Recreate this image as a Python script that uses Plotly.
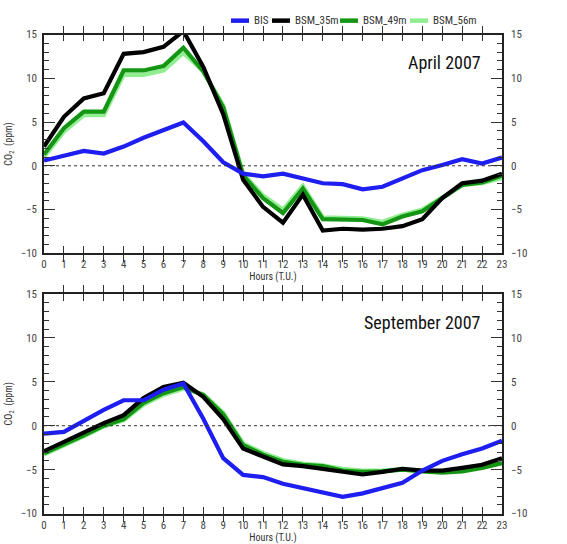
import plotly.graph_objects as go

# Hourly CO2 anomalies (ppm) by station, hours in universal time
hours = list(range(24))

apr_bis = [0.6, 1.2, 1.7, 1.4, 2.2, 3.2, 4.1, 4.95, 2.8, 0.4, -0.9, -1.2,
           -0.9, -1.5, -2.0, -2.1, -2.7, -2.4, -1.5, -0.5, 0.1, 0.75, 0.25, 0.95]
apr_35 = [2.2, 5.6, 7.7, 8.3, 12.8, 13.0, 13.6, 15.4, 11.3, 5.9, -1.6, -4.7,
          -6.5, -3.3, -7.4, -7.2, -7.3, -7.2, -6.9, -6.1, -3.7, -2.0, -1.7, -0.9]
apr_49 = [1.3, 4.3, 6.2, 6.2, 10.9, 10.9, 11.4, 13.5, 10.8, 6.7, -1.1, -3.7,
          -5.4, -2.6, -6.1, -6.1, -6.2, -6.7, -5.8, -5.2, -3.7, -2.2, -1.9, -1.1]
apr_56 = [1.0, 3.9, 5.8, 5.8, 10.4, 10.4, 10.9, 12.9, 10.8, 6.9, -0.9, -3.4,
          -5.0, -2.3, -5.9, -5.9, -6.0, -6.4, -5.6, -5.0, -3.6, -2.2, -2.0, -1.4]

sep_bis = [-0.9, -0.7, 0.55, 1.8, 2.9, 2.9, 4.1, 4.8, 0.8, -3.7, -5.6, -5.85,
           -6.6, -7.1, -7.7, -8.1, -7.7, -7.1, -6.5, -5.1, -4.0, -3.25, -2.6, -1.7]
sep_35 = [-2.9, -1.85, -0.75, 0.3, 1.2, 3.15, 4.4, 4.9, 3.3, 0.75, -2.6, -3.5,
          -4.4, -4.6, -4.9, -5.25, -5.55, -5.25, -4.9, -5.1, -5.1, -4.8, -4.45, -3.7]
sep_49 = [-3.15, -2.15, -1.1, 0.0, 0.75, 2.6, 3.7, 4.4, 3.5, 1.3, -2.2, -3.3,
          -4.1, -4.45, -4.6, -5.1, -5.25, -5.2, -5.0, -5.2, -5.35, -5.2, -4.8, -4.25]
sep_56 = [-3.3, -2.3, -1.2, -0.1, 0.6, 2.4, 3.5, 4.2, 3.6, 1.5, -2.0, -3.1,
          -3.9, -4.3, -4.5, -4.9, -5.1, -5.1, -4.9, -5.1, -5.2, -5.0, -4.7, -4.3]

series_names = ["BIS", "BSM_35m", "BSM_49m", "BSM_56m"]
series_colors = ["#1e1ef0", "#000000", "#149614", "#90ee90"]
panel_titles = ["April 2007", "September 2007"]
y_ticks = [-10, -5, 0, 5, 10, 15]

FONT = "Liberation Sans Narrow, Arial Narrow, Roboto Condensed, sans-serif"

fig = go.Figure()

panels = [
    ([apr_bis, apr_35, apr_49, apr_56], "x", "y", "y3"),
    ([sep_bis, sep_35, sep_49, sep_56], "x2", "y2", "y4"),
]

for data, xa, ya, ya_right in panels:
    # dotted zero reference, drawn on the right-hand axis
    fig.add_trace(go.Scatter(x=[hours[0], hours[-1]], y=[0, 0], mode="lines",
                             line=dict(color="#333333", width=1, dash="dot"),
                             xaxis=xa, yaxis=ya_right, showlegend=False,
                             hoverinfo="skip"))
    # lightest series first so the reference station sits on top
    for i in [3, 2, 1, 0]:
        fig.add_trace(go.Scatter(x=hours, y=data[i], mode="lines",
                                 name=series_names[i],
                                 line=dict(color=series_colors[i], width=4.2),
                                 xaxis=xa, yaxis=ya, showlegend=False))

W, H = 567, 544
L, R = 44, 65
top_dom = [1 - 253.3 / H, 1 - 29.3 / H]
bot_dom = [1 - 520 / H, 1 - 295 / H]

tickfont = dict(family=FONT, size=11, color="#444444")


def xaxis_style(anchor):
    return dict(range=[0, 23], tickmode="array", tickvals=hours,
                ticks="inside", ticklen=7, tickwidth=1.3, tickcolor="#333",
                showline=True, linecolor="#222", linewidth=1.5,
                mirror="allticks", showgrid=False, zeroline=False,
                tickfont=tickfont, anchor=anchor,
                title=dict(text="Hours (T.U.)", standoff=2,
                           font=dict(family=FONT, size=10, color="#333")))


def yaxis_style(domain, anchor):
    return dict(domain=domain, range=[-10, 15], tickmode="array",
                tickvals=y_ticks, ticks="inside", ticklen=11, tickwidth=1.3,
                tickcolor="#333", showline=True, linecolor="#222",
                linewidth=1.5, mirror="allticks", showgrid=False,
                zeroline=False, tickfont=tickfont, anchor=anchor,
                ticklabelstandoff=3,
                minor=dict(dtick=1, tick0=0, ticks="inside", ticklen=5,
                           tickwidth=1.1, tickcolor="#333", showgrid=False),
                title=dict(text="CO<sub>2</sub>  (ppm)", standoff=6,
                           font=dict(family=FONT, size=10, color="#333")))


def right_axis(over):
    return dict(overlaying=over, side="right", range=[-10, 15],
                tickmode="array", tickvals=y_ticks, ticks="",
                ticklabelstandoff=8,
                showline=False, showgrid=False, zeroline=False,
                tickfont=tickfont, anchor="x" if over == "y" else "x2")


fig.update_layout(
    width=W, height=H,
    margin=dict(l=L, r=R, t=0, b=0),
    paper_bgcolor="white", plot_bgcolor="white",
    xaxis=xaxis_style("y"),
    yaxis=yaxis_style(top_dom, "x"),
    xaxis2=xaxis_style("y2"),
    yaxis2=yaxis_style(bot_dom, "x2"),
    yaxis3=right_axis("y"),
    yaxis4=right_axis("y2"),
    showlegend=False,
)

# panel labels
for title, xr, yr in [(panel_titles[0], "x", "y"), (panel_titles[1], "x2", "y2")]:
    fig.add_annotation(text=title, x=22.05, y=11.8, xref=xr, yref=yr,
                       xanchor="right", yanchor="middle", showarrow=False,
                       font=dict(family=FONT, size=18, color="#111"))

# legend row above the top panel
leg_y = 1 - 15 / H
leg_x = [231, 272, 340, 410]
for name, color, px in zip(series_names, series_colors, leg_x):
    x0 = (px - L) / (W - L - R)
    x1 = (px + 18 - L) / (W - L - R)
    fig.add_shape(type="line", xref="paper", yref="paper", x0=x0, x1=x1,
                  y0=leg_y, y1=leg_y, line=dict(color=color, width=4.5))
    fig.add_annotation(text=name, xref="paper", yref="paper",
                       x=(px + 21 - L) / (W - L - R), y=leg_y,
                       xanchor="left", yanchor="middle", showarrow=False,
                       font=dict(family=FONT, size=11, color="#333"))

fig.write_html("out.html")
